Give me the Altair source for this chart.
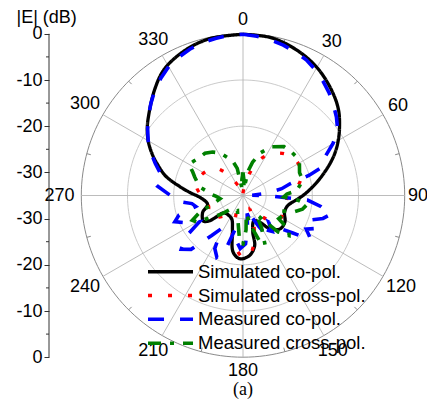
import altair as alt
import pandas as pd

# ---------------- data (angle in degrees, level in dB) ----------------
sim_co_ang = [0, 10, 20, 30, 40, 48, 55, 60, 65, 70, 75, 80, 85, 90, 95, 103, 112, 122, 132, 141,
              148, 157, 165, 167, 174, 183, 190, 197, 205, 215, 228, 231, 233, 237, 247, 256, 267,
              273, 278, 284, 290, 295, 300, 305, 310, 320, 328, 338, 348, 360]
sim_co_db = [-0.1, -0.3, -1.4, -3.0, -5.2, -7.2, -9.5, -11.2, -13.0, -15.0, -17.0, -18.8, -20.5,
             -22.0, -23.5, -25.1, -25.3, -24.3, -24.2, -25.7, -28.2, -29.0, -26.8, -23.8, -21.9,
             -21.3, -22.6, -27.2, -29.3, -29.7, -29.4, -27.8, -25.9, -24.8, -25.5, -27.1, -25.8,
             -23.6, -21.2, -17.8, -15.3, -13.2, -11.3, -9.7, -8.3, -5.2, -2.8, -1.2, -0.3, -0.1]

sim_x_ang = [0, 8, 17, 25, 33, 40, 47, 55, 63, 70, 77, 83, 88, 95, 103, 110, 117, 124, 131, 137,
             143, 150, 157, 163, 168, 174, 180, 186, 192, 197, 203, 212, 220, 228, 235, 242, 252,
             262, 270, 280, 289, 297, 305, 313, 320, 326, 335, 345, 360]
sim_x_db = [-34.5, -33.0, -29.8, -26.5, -24.3, -23.0, -22.0, -21.3, -21.2, -21.5, -22.4, -23.6,
            -25.0, -25.5, -25.4, -25.8, -25.5, -25.5, -26.3, -28.5, -31.0, -32.0, -29.5, -26.5,
            -24.0, -21.9, -21.6, -23.0, -25.0, -27.0, -31.0, -31.0, -29.5, -28.0, -27.0, -26.5,
            -27.2, -26.9, -26.0, -24.8, -24.6, -25.0, -25.6, -26.2, -28.0, -30.0, -33.0, -34.5, -34.5]

meas_co_ang = [0, 5, 10, 15, 20, 25, 30, 35, 40, 45, 50, 55, 60, 65, 70, 73, 76, 80, 85, 88, 91,
               94, 98, 102, 106, 110, 114, 118, 123, 127, 131, 136, 141, 146, 149, 153, 158, 163,
               167, 172, 177, 183, 188, 193, 198, 203, 208, 213, 218, 224, 229, 234, 239, 244, 249,
               253, 257, 261, 265, 268, 272, 276, 280, 285, 290, 295, 300, 305, 310, 315, 320, 325,
               330, 335, 340, 345, 350, 355, 360]
meas_co_db = [-0.1, -0.4, -0.8, -1.3, -1.9, -2.6, -3.6, -4.8, -6.0, -7.3, -8.6, -10.0, -12.5,
              -15.5, -16.5, -20.0, -24.5, -26.5, -30.0, -33.0, -29.0, -21.0, -18.0, -15.5, -17.0,
              -19.5, -17.5, -19.5, -17.5, -21.5, -24.0, -27.0, -25.0, -26.0, -24.5, -27.5, -30.0,
              -28.5, -31.0, -28.0, -24.5, -23.5, -25.0, -27.5, -22.5, -20.5, -22.0, -26.5, -24.0,
              -18.8, -17.3, -19.5, -24.0, -21.5, -19.2, -20.5, -24.5, -23.8, -20.8, -20.0, -18.5,
              -16.5, -17.5, -16.5, -14.8, -13.0, -11.3, -9.8, -8.3, -6.8, -5.3, -4.0, -2.8, -2.0,
              -1.3, -0.8, -0.5, -0.2, -0.1]

meas_x_ang = [0, 3, 8, 12, 16, 22, 30, 40, 48, 55, 60, 68, 75, 80, 85, 88, 92, 95, 98, 103, 108,
              113, 118, 123, 127, 131, 136, 140, 145, 150, 156, 160, 165, 170, 175, 180, 184, 188,
              193, 200, 210, 222, 230, 236, 240, 244, 249, 255, 262, 268, 272, 277, 281, 286, 291,
              295, 300, 305, 311, 318, 325, 332, 338, 343, 348, 352, 356, 360]
meas_x_db = [-30.0, -31.5, -33.5, -29.5, -27.5, -25.1, -22.8, -21.2, -20.9, -20.7, -20.9, -21.8,
             -21.7, -22.5, -23.4, -25.5, -26.2, -23.0, -21.0, -21.8, -23.5, -26.5, -25.5, -25.8,
             -22.5, -21.8, -24.0, -28.0, -30.0, -27.0, -23.2, -24.5, -28.0, -31.0, -27.5, -24.5,
             -24.8, -28.0, -30.0, -31.5, -31.0, -31.0, -28.5, -26.5, -23.5, -22.8, -25.0, -28.5,
             -30.0, -29.2, -28.2, -27.0, -25.5, -24.7, -23.8, -23.0, -21.5, -22.0, -22.5, -22.7,
             -23.5, -24.6, -26.2, -27.0, -29.0, -33.5, -31.5, -30.0]

series_names = ["Simulated co-pol.", "Simulated cross-pol.", "Measured co-pol.", "Measured cross-pol."]
series_colors = ["#000000", "#ff0000", "#0000ff", "#008000"]
series_dashes = [[1, 0], [4, 16], [16, 16], [13, 9, 4, 9]]

ring_levels = [-30, -20, -10]
outer_level = [0]
spoke_angles = [0, 30, 60, 90, 120, 150, 180, 210, 240, 270, 300, 330]
angle_labels = ["0", "30", "60", "90", "120", "150", "180", "210", "240", "270", "300", "330"]
minor_angles = [15, 45, 75, 105, 135, 165, 195, 225, 255, 285, 315, 345]
axis_positions = [35, 25, 15, 5, -5, -15, -25, -35]
axis_minor = [30, 20, 10, -10, -20, -30]
caption = ["(a)"]

# ---------------- layout ----------------
FLOOR = -35.0          # dB at centre
K = 4.62               # px per dB
W, H = 378, 391
CX, CY = 194.0, 187.5  # centre in view pixels
xscale = alt.Scale(domain=[-CX / K, (W - CX) / K], nice=False, zero=False)
yscale = alt.Scale(domain=[-(H - CY) / K, CY / K], nice=False, zero=False)
FONT = "Liberation Sans"

yaxis = alt.Axis(values=axis_positions, labelExpr="'' + (abs(datum.value) - 35)",
                 domain=False, grid=False, ticks=True, tickSize=5, tickColor="#333333",
                 tickWidth=1, labelFontSize=18, labelFont=FONT, labelColor="black",
                 labelPadding=2, labelFlush=False, labelOverlap=False,
                 title="|E| (dB)", titleAngle=0, titleAlign="left", titleBaseline="middle",
                 titleX=-33, titleY=9, titleFontSize=18, titleFontWeight="normal",
                 titleFont=FONT, titleColor="black")


def X(f):
    return alt.X(f, type="quantitative", scale=xscale, axis=None)


def Y(f):
    return alt.Y(f, type="quantitative", scale=yscale, axis=yaxis)


def polar(chart, rfield, afield, xname="x", yname="y"):
    return chart.transform_calculate(
        **{xname: f"max(0, {rfield}) * sin({afield} * PI / 180)",
           yname: f"max(0, {rfield}) * cos({afield} * PI / 180)"})


# ---------------- grid ----------------
rings = pd.DataFrame([{"lvl": l, "a": a} for l in ring_levels for a in range(0, 361, 2)])
outer = pd.DataFrame([{"lvl": l, "a": a} for l in outer_level for a in range(0, 361, 2)])

ring_chart = polar(alt.Chart(rings).transform_calculate(r=f"datum.lvl - ({FLOOR})"),
                   "datum.r", "datum.a").mark_line(color="#c4c4c4", strokeWidth=0.9).encode(
    x=X("x"), y=Y("y"), detail="lvl:N", order="a:Q")
outer_chart = polar(alt.Chart(outer).transform_calculate(r=f"datum.lvl - ({FLOOR})"),
                    "datum.r", "datum.a").mark_line(color="#8a8a8a", strokeWidth=1).encode(
    x=X("x"), y=Y("y"), detail="lvl:N", order="a:Q")

spokes = alt.Chart(pd.DataFrame({"a": spoke_angles})).transform_calculate(
    x0="0", y0="0",
    x1=f"{-FLOOR} * sin(datum.a * PI / 180)",
    y1=f"{-FLOOR} * cos(datum.a * PI / 180)").mark_rule(color="#b4b4b4", strokeWidth=0.9).encode(
    x=X("x0"), y=Y("y0"), x2="x1:Q", y2="y1:Q")

minor_ticks = alt.Chart(pd.DataFrame({"a": minor_angles})).transform_calculate(
    x0=f"{-FLOOR - 0.9} * sin(datum.a * PI / 180)",
    y0=f"{-FLOOR - 0.9} * cos(datum.a * PI / 180)",
    x1=f"{-FLOOR} * sin(datum.a * PI / 180)",
    y1=f"{-FLOOR} * cos(datum.a * PI / 180)").mark_rule(color="#8a8a8a", strokeWidth=1).encode(
    x=X("x0"), y=Y("y0"), x2="x1:Q", y2="y1:Q")

labels = alt.Chart(pd.DataFrame({"a": spoke_angles, "t": angle_labels})).transform_calculate(
    rl="38.0 + 0.85 * (length(datum.t) - 1) * abs(sin(datum.a * PI / 180))",
    x="min(37.9, datum.rl * sin(datum.a * PI / 180))",
    y="datum.rl * cos(datum.a * PI / 180)").mark_text(
    font=FONT, fontSize=18, color="black", align="center", baseline="middle").encode(
    x=X("x"), y=Y("y"), text="t:N")

# left dB axis line and minor ticks
axis_line = alt.Chart(pd.DataFrame({"y1": [max(axis_positions)], "y2": [min(axis_positions)]})).mark_rule(
    color="#333333", strokeWidth=1).encode(x=alt.value(0), y=Y("y1"), y2="y2:Q")
axis_minor_ticks = alt.Chart(pd.DataFrame({"y": axis_minor})).mark_rule(
    color="#333333", strokeWidth=1).encode(x=alt.value(-3), x2=alt.value(0), y=Y("y"))

cap = alt.Chart(pd.DataFrame({"t": caption, "x": [0], "y": [-42.2]})).mark_text(
    font="Liberation Serif", fontSize=18, color="black", align="center", baseline="middle").encode(
    x=X("x"), y=Y("y"), text="t:N")

# ---------------- patterns ----------------
def frame(name, angs, dbs):
    return pd.DataFrame({"series": name, "a": angs, "db": dbs, "i": range(len(angs))})


sim = pd.concat([frame(series_names[0], sim_co_ang, sim_co_db),
                 frame(series_names[1], sim_x_ang, sim_x_db)])
meas = pd.concat([frame(series_names[2], meas_co_ang, meas_co_db),
                  frame(series_names[3], meas_x_ang, meas_x_db)])

color = alt.Color("series:N", scale=alt.Scale(domain=series_names, range=series_colors), legend=None)
dash = alt.StrokeDash("series:N", scale=alt.Scale(domain=series_names, range=series_dashes), legend=None)

sim_chart = polar(alt.Chart(sim).transform_calculate(r=f"datum.db - ({FLOOR})"),
                  "datum.r", "datum.a").mark_line(strokeWidth=3.3, interpolate="catmull-rom",
                                                  strokeCap="butt").encode(
    x=X("x"), y=Y("y"), color=color, strokeDash=dash, order="i:Q")
meas_chart = polar(alt.Chart(meas).transform_calculate(r=f"datum.db - ({FLOOR})"),
                   "datum.r", "datum.a").mark_line(strokeWidth=3.6, strokeCap="butt").encode(
    x=X("x"), y=Y("y"), color=color, strokeDash=dash, order="i:Q")

# ---------------- legend (inside the plot, drawn as marks) ----------------
leg_df = pd.DataFrame({"series": series_names, "row": range(len(series_names))})
leg_base = alt.Chart(leg_df).transform_calculate(
    ly="-16.49 - 5.16 * datum.row", lx0="-20.56", lx1="-10.82", lxt="-9.74")
leg_lines = leg_base.mark_rule(strokeWidth=3.5, strokeCap="butt").encode(
    x=X("lx0"), x2="lx1:Q", y=Y("ly"), color=color, strokeDash=dash)
leg_text = leg_base.mark_text(font=FONT, fontSize=18.5, color="black", align="left",
                              baseline="middle").encode(
    x=X("lxt"), y=Y("ly"), text="series:N")

chart = alt.layer(ring_chart, outer_chart, spokes, minor_ticks, labels, axis_line,
                  axis_minor_ticks, cap, sim_chart, meas_chart, leg_lines, leg_text).properties(
    width=W, height=H,
    padding={"left": 41, "top": 0, "right": 0, "bottom": 0},
    autosize=alt.AutoSizeParams(type="none"),
    background="white",
).configure_view(stroke=None)

chart.save("out.html", embed_options={"renderer": "svg", "actions": False})
